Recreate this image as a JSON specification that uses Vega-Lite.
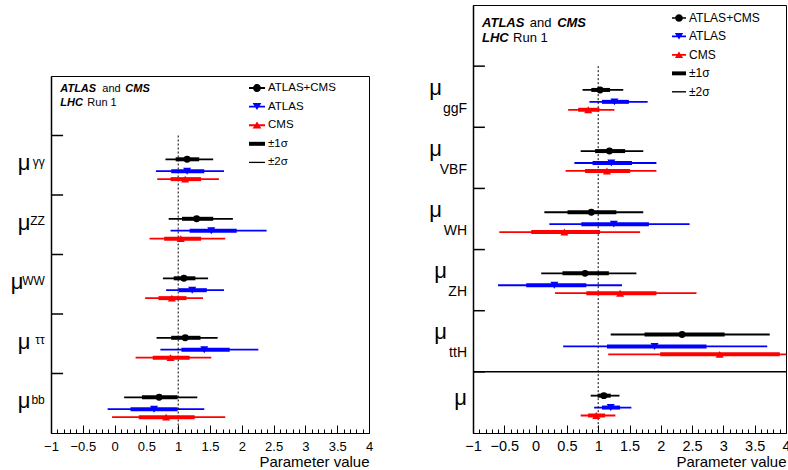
{
  "$schema": "https://vega.github.io/schema/vega-lite/v6.json",
  "background": "white",
  "padding": {"left": 10, "top": 4, "right": 0, "bottom": 0},
  "spacing": 54,
  "config": {
    "font": "Liberation Sans",
    "view": {"stroke": "black", "strokeWidth": 1},
    "axis": {"labelFont": "Liberation Sans", "titleFont": "Liberation Sans"},
    "legend": {"labelFont": "Liberation Sans"},
    "text": {"font": "Liberation Sans"}
  },
  "resolve": {"scale": {"color": "independent", "shape": "independent"}, "legend": {"color": "independent", "shape": "independent"}},
  "datasets": {
    "decay": [
      {"param": "γγ", "series": "ATLAS+CMS", "val": 1.14, "lo1": 0.96, "hi1": 1.33, "lo2": 0.80, "hi2": 1.55},
      {"param": "γγ", "series": "ATLAS", "val": 1.14, "lo1": 0.89, "hi1": 1.41, "lo2": 0.65, "hi2": 1.72},
      {"param": "γγ", "series": "CMS", "val": 1.11, "lo1": 0.88, "hi1": 1.36, "lo2": 0.67, "hi2": 1.64},
      {"param": "ZZ", "series": "ATLAS+CMS", "val": 1.29, "lo1": 1.06, "hi1": 1.55, "lo2": 0.85, "hi2": 1.86},
      {"param": "ZZ", "series": "ATLAS", "val": 1.52, "lo1": 1.18, "hi1": 1.92, "lo2": 0.88, "hi2": 2.39},
      {"param": "ZZ", "series": "CMS", "val": 1.04, "lo1": 0.78, "hi1": 1.36, "lo2": 0.55, "hi2": 1.74},
      {"param": "WW", "series": "ATLAS+CMS", "val": 1.09, "lo1": 0.93, "hi1": 1.27, "lo2": 0.76, "hi2": 1.47},
      {"param": "WW", "series": "ATLAS", "val": 1.22, "lo1": 1.01, "hi1": 1.45, "lo2": 0.81, "hi2": 1.72},
      {"param": "WW", "series": "CMS", "val": 0.90, "lo1": 0.69, "hi1": 1.13, "lo2": 0.48, "hi2": 1.39},
      {"param": "ττ", "series": "ATLAS+CMS", "val": 1.11, "lo1": 0.89, "hi1": 1.35, "lo2": 0.66, "hi2": 1.62},
      {"param": "ττ", "series": "ATLAS", "val": 1.41, "lo1": 1.05, "hi1": 1.81, "lo2": 0.72, "hi2": 2.26},
      {"param": "ττ", "series": "CMS", "val": 0.88, "lo1": 0.60, "hi1": 1.18, "lo2": 0.33, "hi2": 1.52},
      {"param": "bb", "series": "ATLAS+CMS", "val": 0.70, "lo1": 0.43, "hi1": 0.99, "lo2": 0.15, "hi2": 1.30},
      {"param": "bb", "series": "ATLAS", "val": 0.62, "lo1": 0.25, "hi1": 0.99, "lo2": -0.11, "hi2": 1.41},
      {"param": "bb", "series": "CMS", "val": 0.81, "lo1": 0.38, "hi1": 1.26, "lo2": -0.04, "hi2": 1.74}
    ],
    "prod": [
      {"param": "ggF", "series": "ATLAS+CMS", "val": 1.03, "lo1": 0.89, "hi1": 1.19, "lo2": 0.75, "hi2": 1.40},
      {"param": "ggF", "series": "ATLAS", "val": 1.26, "lo1": 1.06, "hi1": 1.49, "lo2": 0.86, "hi2": 1.79},
      {"param": "ggF", "series": "CMS", "val": 0.84, "lo1": 0.68, "hi1": 1.02, "lo2": 0.52, "hi2": 1.26},
      {"param": "VBF", "series": "ATLAS+CMS", "val": 1.18, "lo1": 0.95, "hi1": 1.43, "lo2": 0.72, "hi2": 1.72},
      {"param": "VBF", "series": "ATLAS", "val": 1.21, "lo1": 0.91, "hi1": 1.54, "lo2": 0.62, "hi2": 1.93},
      {"param": "VBF", "series": "CMS", "val": 1.14, "lo1": 0.79, "hi1": 1.51, "lo2": 0.48, "hi2": 1.93},
      {"param": "WH", "series": "ATLAS+CMS", "val": 0.89, "lo1": 0.51, "hi1": 1.29, "lo2": 0.14, "hi2": 1.72},
      {"param": "WH", "series": "ATLAS", "val": 1.25, "lo1": 0.73, "hi1": 1.81, "lo2": 0.22, "hi2": 2.46},
      {"param": "WH", "series": "CMS", "val": 0.46, "lo1": -0.07, "hi1": 1.03, "lo2": -0.58, "hi2": 1.67},
      {"param": "ZH", "series": "ATLAS+CMS", "val": 0.79, "lo1": 0.43, "hi1": 1.17, "lo2": 0.09, "hi2": 1.61},
      {"param": "ZH", "series": "ATLAS", "val": 0.30, "lo1": -0.15, "hi1": 0.81, "lo2": -0.60, "hi2": 1.38},
      {"param": "ZH", "series": "CMS", "val": 1.35, "lo1": 0.81, "hi1": 1.93, "lo2": 0.31, "hi2": 2.57},
      {"param": "ttH", "series": "ATLAS+CMS", "val": 2.34, "lo1": 1.74, "hi1": 3.02, "lo2": 1.20, "hi2": 3.74},
      {"param": "ttH", "series": "ATLAS", "val": 1.90, "lo1": 1.14, "hi1": 2.73, "lo2": 0.44, "hi2": 3.70},
      {"param": "ttH", "series": "CMS", "val": 2.94, "lo1": 1.99, "hi1": 3.90, "lo2": 1.16, "hi2": 5.0},
      {"param": "μ", "series": "ATLAS+CMS", "val": 1.09, "lo1": 0.99, "hi1": 1.20, "lo2": 0.88, "hi2": 1.34},
      {"param": "μ", "series": "ATLAS", "val": 1.20, "lo1": 1.06, "hi1": 1.35, "lo2": 0.935, "hi2": 1.53},
      {"param": "μ", "series": "CMS", "val": 0.97, "lo1": 0.84, "hi1": 1.11, "lo2": 0.72, "hi2": 1.275}
    ]
  },
  "hconcat": [
    {
      "spacing": 0,
      "resolve": {"scale": {"color": "independent", "shape": "independent"}, "legend": {"color": "independent", "shape": "independent"}},
      "vconcat": [
        {"width": 318, "height": 70, "view": {"stroke": null}, "data": {"values": []}, "mark": "point"},
        {
          "width": 318,
          "height": 357,
          "data": {"name": "decay"},
          "resolve": {"axis": {"x": "independent"}},
          "layer": [
            {
              "mark": {"type": "rule", "strokeWidth": 1.8, "clip": true},
              "encoding": {
                "x": {"field": "lo2", "type": "quantitative", "scale": {"domain": [-1, 4], "nice": false, "zero": false},
                  "axis": {
                    "orient": "bottom",
                    "values": [-1, -0.5, 0, 0.5, 1, 1.5, 2, 2.5, 3, 3.5, 4],
                    "format": "~g",
                    "labelOverlap": false, "labelFlush": false, "labelFontSize": 13, "labelColor": "black", "labelPadding": 15,
                    "tickSize": -8,
                    "tickColor": "black", "tickWidth": 1, "domainColor": "black", "domainWidth": 1, "grid": false,
                    "title": "Parameter value", "titleAnchor": "end", "titleFontSize": 15, "titleFontWeight": "normal", "titleColor": "black", "titlePadding": 1
                  }
                },
                "x2": {"field": "hi2"},
                "y": {"field": "param", "type": "nominal", "scale": {"type": "band", "domain": [" ", "γγ", "ZZ", "WW", "ττ", "bb"], "paddingInner": 0, "paddingOuter": 0},
                  "axis": {"ticks": false, "labels": false, "domainColor": "black", "domainWidth": 1.5, "title": null, "grid": false}
                },
                "yOffset": {"field": "series", "type": "nominal", "scale": {"type": "point", "domain": ["_0", "_1", "_2", "_3", "_4", "_5", "ATLAS+CMS", "_7", "_8", "ATLAS", "_10", "CMS", "_12", "_13", "_14", "_15"], "padding": 0}},
                "color": {"field": "series", "type": "nominal", "scale": {"domain": ["ATLAS+CMS", "ATLAS", "CMS", "±1σ", "±2σ"], "range": ["#000000", "#0000ff", "#ff0000", "#000000", "#000000"]}}
              }
            },
            {
              "data": {"values": [{}]},
              "mark": {"type": "rule", "color": "black", "strokeWidth": 1, "strokeDash": [2, 2]},
              "encoding": {
                "x": {"datum": 1, "type": "quantitative", "scale": {"domain": [-1, 4], "nice": false, "zero": false}, "axis": null},
                "y": {"datum": "γγ", "type": "nominal", "bandPosition": 0, "scale": {"type": "band", "domain": [" ", "γγ", "ZZ", "WW", "ττ", "bb"], "paddingInner": 0, "paddingOuter": 0}},
                "y2": {"value": "height"}
              }
            },
            {
              "transform": [{"filter": "datum.series == 'ATLAS+CMS'"}],
              "mark": {"type": "rule", "color": "black", "strokeWidth": 1.5},
              "encoding": {
                "x": {"datum": -1, "type": "quantitative", "scale": {"domain": [-1, 4], "nice": false, "zero": false}, "axis": null},
                "x2": {"datum": -0.81},
                "y": {"field": "param", "type": "nominal", "bandPosition": 0, "scale": {"type": "band", "domain": [" ", "γγ", "ZZ", "WW", "ττ", "bb"], "paddingInner": 0, "paddingOuter": 0}}
              }
            },
            {
              "mark": {"type": "rule", "strokeWidth": 4, "clip": true},
              "encoding": {
                "x": {"field": "lo1", "type": "quantitative", "scale": {"domain": [-1, 4], "nice": false, "zero": false},
                  "axis": {
                    "orient": "bottom",
                    "values": [-0.9, -0.8, -0.7, -0.6, -0.4, -0.3, -0.2, -0.1, 0.1, 0.2, 0.3, 0.4, 0.6, 0.7, 0.8, 0.9, 1.1, 1.2, 1.3, 1.4, 1.6, 1.7, 1.8, 1.9, 2.1, 2.2, 2.3, 2.4, 2.6, 2.7, 2.8, 2.9, 3.1, 3.2, 3.3, 3.4, 3.6, 3.7, 3.8, 3.9],
                    "labels": false, "domain": false, "grid": false, "title": null,
                    "tickSize": -4, "tickColor": "black", "tickWidth": 1
                  }
                },
                "x2": {"field": "hi1"},
                "y": {"field": "param", "type": "nominal", "scale": {"type": "band", "domain": [" ", "γγ", "ZZ", "WW", "ττ", "bb"], "paddingInner": 0, "paddingOuter": 0}},
                "yOffset": {"field": "series", "type": "nominal", "scale": {"type": "point", "domain": ["_0", "_1", "_2", "_3", "_4", "_5", "ATLAS+CMS", "_7", "_8", "ATLAS", "_10", "CMS", "_12", "_13", "_14", "_15"], "padding": 0}},
                "color": {"field": "series", "type": "nominal", "scale": {"domain": ["ATLAS+CMS", "ATLAS", "CMS", "±1σ", "±2σ"], "range": ["#000000", "#0000ff", "#ff0000", "#000000", "#000000"]}}
              }
            },
            {
              "transform": [{"filter": "datum.series == 'ATLAS+CMS'"}],
              "mark": {"type": "point", "shape": "circle", "filled": true, "size": 48, "opacity": 1},
              "encoding": {
                "x": {"field": "val", "type": "quantitative", "scale": {"domain": [-1, 4], "nice": false, "zero": false}, "axis": null},
                "y": {"field": "param", "type": "nominal", "scale": {"type": "band", "domain": [" ", "γγ", "ZZ", "WW", "ττ", "bb"], "paddingInner": 0, "paddingOuter": 0}},
                "yOffset": {"field": "series", "type": "nominal", "scale": {"type": "point", "domain": ["_0", "_1", "_2", "_3", "_4", "_5", "ATLAS+CMS", "_7", "_8", "ATLAS", "_10", "CMS", "_12", "_13", "_14", "_15"], "padding": 0}},
                "color": {"field": "series", "type": "nominal", "scale": {"domain": ["ATLAS+CMS", "ATLAS", "CMS", "±1σ", "±2σ"], "range": ["#000000", "#0000ff", "#ff0000", "#000000", "#000000"]}}
              }
            },
            {
              "transform": [{"filter": "datum.series == 'ATLAS'"}],
              "mark": {"type": "point", "shape": "triangle-down", "filled": true, "size": 64, "opacity": 1},
              "encoding": {
                "x": {"field": "val", "type": "quantitative", "scale": {"domain": [-1, 4], "nice": false, "zero": false}, "axis": null},
                "y": {"field": "param", "type": "nominal", "scale": {"type": "band", "domain": [" ", "γγ", "ZZ", "WW", "ττ", "bb"], "paddingInner": 0, "paddingOuter": 0}},
                "yOffset": {"field": "series", "type": "nominal", "scale": {"type": "point", "domain": ["_0", "_1", "_2", "_3", "_4", "_5", "ATLAS+CMS", "_7", "_8", "ATLAS", "_10", "CMS", "_12", "_13", "_14", "_15"], "padding": 0}},
                "color": {"field": "series", "type": "nominal", "scale": {"domain": ["ATLAS+CMS", "ATLAS", "CMS", "±1σ", "±2σ"], "range": ["#000000", "#0000ff", "#ff0000", "#000000", "#000000"]}}
              }
            },
            {
              "transform": [{"filter": "datum.series == 'CMS'"}],
              "mark": {"type": "point", "shape": "triangle-up", "filled": true, "size": 64, "opacity": 1},
              "encoding": {
                "x": {"field": "val", "type": "quantitative", "scale": {"domain": [-1, 4], "nice": false, "zero": false}, "axis": null},
                "y": {"field": "param", "type": "nominal", "scale": {"type": "band", "domain": [" ", "γγ", "ZZ", "WW", "ττ", "bb"], "paddingInner": 0, "paddingOuter": 0}},
                "yOffset": {"field": "series", "type": "nominal", "scale": {"type": "point", "domain": ["_0", "_1", "_2", "_3", "_4", "_5", "ATLAS+CMS", "_7", "_8", "ATLAS", "_10", "CMS", "_12", "_13", "_14", "_15"], "padding": 0}},
                "color": {"field": "series", "type": "nominal", "scale": {"domain": ["ATLAS+CMS", "ATLAS", "CMS", "±1σ", "±2σ"], "range": ["#000000", "#0000ff", "#ff0000", "#000000", "#000000"]}}
              }
            },
            {
              "transform": [{"filter": "false"}],
              "mark": {"type": "point", "filled": true, "size": 256, "opacity": 1},
              "encoding": {
                "x": {"field": "val", "type": "quantitative", "scale": {"domain": [-1, 4], "nice": false, "zero": false}, "axis": null},
                "y": {"field": "param", "type": "nominal", "scale": {"type": "band", "domain": [" ", "γγ", "ZZ", "WW", "ττ", "bb"], "paddingInner": 0, "paddingOuter": 0}},
                "color": {"field": "series", "type": "nominal", "scale": {"domain": ["ATLAS+CMS", "ATLAS", "CMS", "±1σ", "±2σ"], "range": ["#000000", "#0000ff", "#ff0000", "#000000", "#000000"]},
                  "legend": {"orient": "none", "legendX": 198, "legendY": 4, "title": null, "labelFontSize": 11.5, "labelColor": "black", "labelOffset": 3, "rowPadding": 4.6, "padding": 0, "symbolSize": 256, "symbolStrokeWidth": 0, "symbolOpacity": 1}},
                "shape": {"field": "series", "type": "nominal", "scale": {"domain": ["ATLAS+CMS", "ATLAS", "CMS", "±1σ", "±2σ"], "range": [
                  "M-1,-0.12L1,-0.12L1,0.12L-1,0.12Z M-0.5,0A0.5,0.5 0 1,1 0.5,0A0.5,0.5 0 1,1 -0.5,0Z",
                  "M-1,-0.12L1,-0.12L1,0.12L-1,0.12Z M-0.55,-0.45L0.55,-0.45L0,0.42Z",
                  "M-1,-0.12L1,-0.12L1,0.12L-1,0.12Z M-0.55,0.42L0,-0.45L0.55,0.42Z",
                  "M-1,-0.25L1,-0.25L1,0.25L-1,0.25Z",
                  "M-1,-0.08L1,-0.08L1,0.08L-1,0.08Z"]},
                  "legend": {"orient": "none", "legendX": 198, "legendY": 4, "title": null, "labelFontSize": 11.5, "labelColor": "black", "labelOffset": 3, "rowPadding": 4.6, "padding": 0, "symbolSize": 256, "symbolStrokeWidth": 0, "symbolOpacity": 1}}
              }
            },
            {
              "transform": [{"filter": "datum.series == 'ATLAS+CMS' && datum.param != 'WW'"}],
              "mark": {"type": "text", "text": "μ", "align": "right", "baseline": "alphabetic", "dx": -20.5, "dy": 4.75, "fontSize": 22, "color": "black"},
              "encoding": {
                "x": {"datum": -1, "type": "quantitative", "scale": {"domain": [-1, 4], "nice": false, "zero": false}, "axis": null},
                "y": {"field": "param", "type": "nominal", "scale": {"type": "band", "domain": [" ", "γγ", "ZZ", "WW", "ττ", "bb"], "paddingInner": 0, "paddingOuter": 0}}
              }
            },
            {
              "transform": [{"filter": "datum.series == 'ATLAS+CMS' && datum.param == 'WW'"}],
              "mark": {"type": "text", "text": "μ", "align": "right", "baseline": "alphabetic", "dx": -27.5, "dy": 4.75, "fontSize": 22, "color": "black"},
              "encoding": {
                "x": {"datum": -1, "type": "quantitative", "scale": {"domain": [-1, 4], "nice": false, "zero": false}, "axis": null},
                "y": {"field": "param", "type": "nominal", "scale": {"type": "band", "domain": [" ", "γγ", "ZZ", "WW", "ττ", "bb"], "paddingInner": 0, "paddingOuter": 0}}
              }
            },
            {
              "transform": [{"filter": "datum.series == 'ATLAS+CMS'"}],
              "mark": {"type": "text", "align": "right", "baseline": "alphabetic", "dx": -6.2, "dy": 0.25, "fontSize": 12, "color": "black"},
              "encoding": {
                "x": {"datum": -1, "type": "quantitative", "scale": {"domain": [-1, 4], "nice": false, "zero": false}, "axis": null},
                "y": {"field": "param", "type": "nominal", "scale": {"type": "band", "domain": [" ", "γγ", "ZZ", "WW", "ττ", "bb"], "paddingInner": 0, "paddingOuter": 0}},
                "text": {"field": "param"}
              }
            },
            {
              "data": {"values": [{}]},
              "mark": {"type": "text", "text": "ATLAS", "fontStyle": "italic", "fontWeight": "bold", "fontSize": 11, "align": "left", "baseline": "middle", "dy": -16.75, "color": "black"},
              "encoding": {
                "x": {"datum": -0.854, "type": "quantitative", "scale": {"domain": [-1, 4], "nice": false, "zero": false}, "axis": null},
                "y": {"datum": " ", "type": "nominal", "scale": {"type": "band", "domain": [" ", "γγ", "ZZ", "WW", "ττ", "bb"], "paddingInner": 0, "paddingOuter": 0}}
              }
            },
            {
              "data": {"values": [{}]},
              "mark": {"type": "text", "text": "and", "fontSize": 11, "align": "left", "baseline": "middle", "dy": -16.75, "color": "black"},
              "encoding": {
                "x": {"datum": -0.193, "type": "quantitative", "scale": {"domain": [-1, 4], "nice": false, "zero": false}, "axis": null},
                "y": {"datum": " ", "type": "nominal", "scale": {"type": "band", "domain": [" ", "γγ", "ZZ", "WW", "ττ", "bb"], "paddingInner": 0, "paddingOuter": 0}}
              }
            },
            {
              "data": {"values": [{}]},
              "mark": {"type": "text", "text": "CMS", "fontStyle": "italic", "fontWeight": "bold", "fontSize": 11, "align": "left", "baseline": "middle", "dy": -16.75, "color": "black"},
              "encoding": {
                "x": {"datum": 0.168, "type": "quantitative", "scale": {"domain": [-1, 4], "nice": false, "zero": false}, "axis": null},
                "y": {"datum": " ", "type": "nominal", "scale": {"type": "band", "domain": [" ", "γγ", "ZZ", "WW", "ττ", "bb"], "paddingInner": 0, "paddingOuter": 0}}
              }
            },
            {
              "data": {"values": [{}]},
              "mark": {"type": "text", "text": "LHC", "fontStyle": "italic", "fontWeight": "bold", "fontSize": 11, "align": "left", "baseline": "middle", "dy": -2.75, "color": "black"},
              "encoding": {
                "x": {"datum": -0.854, "type": "quantitative", "scale": {"domain": [-1, 4], "nice": false, "zero": false}, "axis": null},
                "y": {"datum": " ", "type": "nominal", "scale": {"type": "band", "domain": [" ", "γγ", "ZZ", "WW", "ττ", "bb"], "paddingInner": 0, "paddingOuter": 0}}
              }
            },
            {
              "data": {"values": [{}]},
              "mark": {"type": "text", "text": "Run 1", "fontSize": 11, "align": "left", "baseline": "middle", "dy": -2.75, "color": "black"},
              "encoding": {
                "x": {"datum": -0.429, "type": "quantitative", "scale": {"domain": [-1, 4], "nice": false, "zero": false}, "axis": null},
                "y": {"datum": " ", "type": "nominal", "scale": {"type": "band", "domain": [" ", "γγ", "ZZ", "WW", "ττ", "bb"], "paddingInner": 0, "paddingOuter": 0}}
              }
            }
          ]
        }
      ]
    },
    {
      "width": 313,
      "height": 428,
      "data": {"name": "prod"},
      "resolve": {"axis": {"x": "independent"}},
      "layer": [
        {
          "mark": {"type": "rule", "strokeWidth": 1.8, "clip": true},
          "encoding": {
            "x": {"field": "lo2", "type": "quantitative", "scale": {"domain": [-1, 4], "nice": false, "zero": false},
              "axis": {
                "orient": "bottom",
                "values": [-1, -0.5, 0, 0.5, 1, 1.5, 2, 2.5, 3, 3.5, 4],
                "format": "~g",
                "labelOverlap": false, "labelFlush": false, "labelFontSize": 14.5, "labelColor": "black", "labelPadding": 14,
                "tickSize": -8,
                "tickColor": "black", "tickWidth": 1, "domainColor": "black", "domainWidth": 1, "grid": false,
                "title": "Parameter value", "titleAnchor": "end", "titleFontSize": 15, "titleFontWeight": "normal", "titleColor": "black", "titlePadding": 2
              }
            },
            "x2": {"field": "hi2"},
            "y": {"field": "param", "type": "nominal", "scale": {"type": "band", "domain": [" ", "ggF", "VBF", "WH", "ZH", "ttH", "μ"], "paddingInner": 0, "paddingOuter": 0},
              "axis": {"ticks": false, "labels": false, "domainColor": "black", "domainWidth": 1.5, "title": null, "grid": false}
            },
            "yOffset": {"field": "series", "type": "nominal", "scale": {"type": "point", "domain": ["_0", "_1", "_2", "_3", "_4", "_5", "ATLAS+CMS", "_7", "_8", "ATLAS", "_10", "CMS", "_12", "_13", "_14", "_15"], "padding": 0}},
            "color": {"field": "series", "type": "nominal", "scale": {"domain": ["ATLAS+CMS", "ATLAS", "CMS", "±1σ", "±2σ"], "range": ["#000000", "#0000ff", "#ff0000", "#000000", "#000000"]}}
          }
        },
        {
          "data": {"values": [{}]},
          "mark": {"type": "rule", "color": "black", "strokeWidth": 1, "strokeDash": [2, 2]},
          "encoding": {
            "x": {"datum": 1, "type": "quantitative", "scale": {"domain": [-1, 4], "nice": false, "zero": false}, "axis": null},
            "y": {"datum": "ggF", "type": "nominal", "bandPosition": 0, "scale": {"type": "band", "domain": [" ", "ggF", "VBF", "WH", "ZH", "ttH", "μ"], "paddingInner": 0, "paddingOuter": 0}},
            "y2": {"value": "height"}
          }
        },
        {
          "data": {"values": [{}]},
          "mark": {"type": "rule", "color": "black", "strokeWidth": 1.5},
          "encoding": {
            "y": {"datum": "μ", "type": "nominal", "bandPosition": 0, "scale": {"type": "band", "domain": [" ", "ggF", "VBF", "WH", "ZH", "ttH", "μ"], "paddingInner": 0, "paddingOuter": 0}}
          }
        },
        {
          "transform": [{"filter": "datum.series == 'ATLAS+CMS'"}],
          "mark": {"type": "rule", "color": "black", "strokeWidth": 1.5},
          "encoding": {
            "x": {"datum": -1, "type": "quantitative", "scale": {"domain": [-1, 4], "nice": false, "zero": false}, "axis": null},
            "x2": {"datum": -0.81},
            "y": {"field": "param", "type": "nominal", "bandPosition": 0, "scale": {"type": "band", "domain": [" ", "ggF", "VBF", "WH", "ZH", "ttH", "μ"], "paddingInner": 0, "paddingOuter": 0}}
          }
        },
        {
          "mark": {"type": "rule", "strokeWidth": 4, "clip": true},
          "encoding": {
            "x": {"field": "lo1", "type": "quantitative", "scale": {"domain": [-1, 4], "nice": false, "zero": false},
              "axis": {
                "orient": "bottom",
                "values": [-0.9, -0.8, -0.7, -0.6, -0.4, -0.3, -0.2, -0.1, 0.1, 0.2, 0.3, 0.4, 0.6, 0.7, 0.8, 0.9, 1.1, 1.2, 1.3, 1.4, 1.6, 1.7, 1.8, 1.9, 2.1, 2.2, 2.3, 2.4, 2.6, 2.7, 2.8, 2.9, 3.1, 3.2, 3.3, 3.4, 3.6, 3.7, 3.8, 3.9],
                "labels": false, "domain": false, "grid": false, "title": null,
                "tickSize": -4, "tickColor": "black", "tickWidth": 1
              }
            },
            "x2": {"field": "hi1"},
            "y": {"field": "param", "type": "nominal", "scale": {"type": "band", "domain": [" ", "ggF", "VBF", "WH", "ZH", "ttH", "μ"], "paddingInner": 0, "paddingOuter": 0}},
            "yOffset": {"field": "series", "type": "nominal", "scale": {"type": "point", "domain": ["_0", "_1", "_2", "_3", "_4", "_5", "ATLAS+CMS", "_7", "_8", "ATLAS", "_10", "CMS", "_12", "_13", "_14", "_15"], "padding": 0}},
            "color": {"field": "series", "type": "nominal", "scale": {"domain": ["ATLAS+CMS", "ATLAS", "CMS", "±1σ", "±2σ"], "range": ["#000000", "#0000ff", "#ff0000", "#000000", "#000000"]}}
          }
        },
        {
          "transform": [{"filter": "datum.series == 'ATLAS+CMS'"}],
          "mark": {"type": "point", "shape": "circle", "filled": true, "size": 48, "opacity": 1},
          "encoding": {
            "x": {"field": "val", "type": "quantitative", "scale": {"domain": [-1, 4], "nice": false, "zero": false}, "axis": null},
            "y": {"field": "param", "type": "nominal", "scale": {"type": "band", "domain": [" ", "ggF", "VBF", "WH", "ZH", "ttH", "μ"], "paddingInner": 0, "paddingOuter": 0}},
            "yOffset": {"field": "series", "type": "nominal", "scale": {"type": "point", "domain": ["_0", "_1", "_2", "_3", "_4", "_5", "ATLAS+CMS", "_7", "_8", "ATLAS", "_10", "CMS", "_12", "_13", "_14", "_15"], "padding": 0}},
            "color": {"field": "series", "type": "nominal", "scale": {"domain": ["ATLAS+CMS", "ATLAS", "CMS", "±1σ", "±2σ"], "range": ["#000000", "#0000ff", "#ff0000", "#000000", "#000000"]}}
          }
        },
        {
          "transform": [{"filter": "datum.series == 'ATLAS'"}],
          "mark": {"type": "point", "shape": "triangle-down", "filled": true, "size": 64, "opacity": 1},
          "encoding": {
            "x": {"field": "val", "type": "quantitative", "scale": {"domain": [-1, 4], "nice": false, "zero": false}, "axis": null},
            "y": {"field": "param", "type": "nominal", "scale": {"type": "band", "domain": [" ", "ggF", "VBF", "WH", "ZH", "ttH", "μ"], "paddingInner": 0, "paddingOuter": 0}},
            "yOffset": {"field": "series", "type": "nominal", "scale": {"type": "point", "domain": ["_0", "_1", "_2", "_3", "_4", "_5", "ATLAS+CMS", "_7", "_8", "ATLAS", "_10", "CMS", "_12", "_13", "_14", "_15"], "padding": 0}},
            "color": {"field": "series", "type": "nominal", "scale": {"domain": ["ATLAS+CMS", "ATLAS", "CMS", "±1σ", "±2σ"], "range": ["#000000", "#0000ff", "#ff0000", "#000000", "#000000"]}}
          }
        },
        {
          "transform": [{"filter": "datum.series == 'CMS'"}],
          "mark": {"type": "point", "shape": "triangle-up", "filled": true, "size": 64, "opacity": 1},
          "encoding": {
            "x": {"field": "val", "type": "quantitative", "scale": {"domain": [-1, 4], "nice": false, "zero": false}, "axis": null},
            "y": {"field": "param", "type": "nominal", "scale": {"type": "band", "domain": [" ", "ggF", "VBF", "WH", "ZH", "ttH", "μ"], "paddingInner": 0, "paddingOuter": 0}},
            "yOffset": {"field": "series", "type": "nominal", "scale": {"type": "point", "domain": ["_0", "_1", "_2", "_3", "_4", "_5", "ATLAS+CMS", "_7", "_8", "ATLAS", "_10", "CMS", "_12", "_13", "_14", "_15"], "padding": 0}},
            "color": {"field": "series", "type": "nominal", "scale": {"domain": ["ATLAS+CMS", "ATLAS", "CMS", "±1σ", "±2σ"], "range": ["#000000", "#0000ff", "#ff0000", "#000000", "#000000"]}}
          }
        },
        {
          "transform": [{"filter": "false"}],
          "mark": {"type": "point", "filled": true, "size": 196, "opacity": 1},
          "encoding": {
            "x": {"field": "val", "type": "quantitative", "scale": {"domain": [-1, 4], "nice": false, "zero": false}, "axis": null},
            "y": {"field": "param", "type": "nominal", "scale": {"type": "band", "domain": [" ", "ggF", "VBF", "WH", "ZH", "ttH", "μ"], "paddingInner": 0, "paddingOuter": 0}},
            "color": {"field": "series", "type": "nominal", "scale": {"domain": ["ATLAS+CMS", "ATLAS", "CMS", "±1σ", "±2σ"], "range": ["#000000", "#0000ff", "#ff0000", "#000000", "#000000"]},
              "legend": {"orient": "none", "legendX": 199, "legendY": 6, "title": null, "labelFontSize": 12, "labelColor": "black", "labelOffset": 3, "rowPadding": 5.45, "padding": 0, "symbolSize": 196, "symbolStrokeWidth": 0, "symbolOpacity": 1}},
            "shape": {"field": "series", "type": "nominal", "scale": {"domain": ["ATLAS+CMS", "ATLAS", "CMS", "±1σ", "±2σ"], "range": [
              "M-1,-0.12L1,-0.12L1,0.12L-1,0.12Z M-0.55,0A0.55,0.55 0 1,1 0.55,0A0.55,0.55 0 1,1 -0.55,0Z",
              "M-1,-0.12L1,-0.12L1,0.12L-1,0.12Z M-0.6,-0.5L0.6,-0.5L0,0.45Z",
              "M-1,-0.12L1,-0.12L1,0.12L-1,0.12Z M-0.6,0.45L0,-0.5L0.6,0.45Z",
              "M-1,-0.28L1,-0.28L1,0.28L-1,0.28Z",
              "M-1,-0.1L1,-0.1L1,0.1L-1,0.1Z"]},
              "legend": {"orient": "none", "legendX": 199, "legendY": 6, "title": null, "labelFontSize": 12, "labelColor": "black", "labelOffset": 3, "rowPadding": 5.45, "padding": 0, "symbolSize": 196, "symbolStrokeWidth": 0, "symbolOpacity": 1}}
          }
        },
        {
          "transform": [{"filter": "datum.series == 'ATLAS+CMS' && (datum.param == 'ggF' || datum.param == 'VBF' || datum.param == 'WH')"}],
          "mark": {"type": "text", "text": "μ", "align": "right", "baseline": "alphabetic", "dx": -31, "dy": -2, "fontSize": 22, "color": "black"},
          "encoding": {
            "x": {"datum": -1, "type": "quantitative", "scale": {"domain": [-1, 4], "nice": false, "zero": false}, "axis": null},
            "y": {"field": "param", "type": "nominal", "scale": {"type": "band", "domain": [" ", "ggF", "VBF", "WH", "ZH", "ttH", "μ"], "paddingInner": 0, "paddingOuter": 0}}
          }
        },
        {
          "transform": [{"filter": "datum.series == 'ATLAS+CMS' && (datum.param == 'ZH' || datum.param == 'ttH')"}],
          "mark": {"type": "text", "text": "μ", "align": "right", "baseline": "alphabetic", "dx": -26, "dy": -2, "fontSize": 22, "color": "black"},
          "encoding": {
            "x": {"datum": -1, "type": "quantitative", "scale": {"domain": [-1, 4], "nice": false, "zero": false}, "axis": null},
            "y": {"field": "param", "type": "nominal", "scale": {"type": "band", "domain": [" ", "ggF", "VBF", "WH", "ZH", "ttH", "μ"], "paddingInner": 0, "paddingOuter": 0}}
          }
        },
        {
          "transform": [{"filter": "datum.series == 'ATLAS+CMS' && datum.param == 'μ'"}],
          "mark": {"type": "text", "text": "μ", "align": "right", "baseline": "alphabetic", "dx": -6, "dy": 3, "fontSize": 22, "color": "black"},
          "encoding": {
            "x": {"datum": -1, "type": "quantitative", "scale": {"domain": [-1, 4], "nice": false, "zero": false}, "axis": null},
            "y": {"field": "param", "type": "nominal", "scale": {"type": "band", "domain": [" ", "ggF", "VBF", "WH", "ZH", "ttH", "μ"], "paddingInner": 0, "paddingOuter": 0}}
          }
        },
        {
          "transform": [{"filter": "datum.series == 'ATLAS+CMS' && datum.param != 'μ'"}],
          "mark": {"type": "text", "align": "right", "baseline": "alphabetic", "dx": -6, "dy": 16, "fontSize": 14, "color": "black"},
          "encoding": {
            "x": {"datum": -1, "type": "quantitative", "scale": {"domain": [-1, 4], "nice": false, "zero": false}, "axis": null},
            "y": {"field": "param", "type": "nominal", "scale": {"type": "band", "domain": [" ", "ggF", "VBF", "WH", "ZH", "ttH", "μ"], "paddingInner": 0, "paddingOuter": 0}},
            "text": {"field": "param"}
          }
        },
        {
          "data": {"values": [{}]},
          "mark": {"type": "text", "text": "ATLAS", "fontStyle": "italic", "fontWeight": "bold", "fontSize": 13, "align": "left", "baseline": "middle", "dy": -12.8, "color": "black"},
          "encoding": {
            "x": {"datum": -0.856, "type": "quantitative", "scale": {"domain": [-1, 4], "nice": false, "zero": false}, "axis": null},
            "y": {"datum": " ", "type": "nominal", "scale": {"type": "band", "domain": [" ", "ggF", "VBF", "WH", "ZH", "ttH", "μ"], "paddingInner": 0, "paddingOuter": 0}}
          }
        },
        {
          "data": {"values": [{}]},
          "mark": {"type": "text", "text": "and", "fontSize": 13, "align": "left", "baseline": "middle", "dy": -12.8, "color": "black"},
          "encoding": {
            "x": {"datum": -0.093, "type": "quantitative", "scale": {"domain": [-1, 4], "nice": false, "zero": false}, "axis": null},
            "y": {"datum": " ", "type": "nominal", "scale": {"type": "band", "domain": [" ", "ggF", "VBF", "WH", "ZH", "ttH", "μ"], "paddingInner": 0, "paddingOuter": 0}}
          }
        },
        {
          "data": {"values": [{}]},
          "mark": {"type": "text", "text": "CMS", "fontStyle": "italic", "fontWeight": "bold", "fontSize": 13, "align": "left", "baseline": "middle", "dy": -12.8, "color": "black"},
          "encoding": {
            "x": {"datum": 0.344, "type": "quantitative", "scale": {"domain": [-1, 4], "nice": false, "zero": false}, "axis": null},
            "y": {"datum": " ", "type": "nominal", "scale": {"type": "band", "domain": [" ", "ggF", "VBF", "WH", "ZH", "ttH", "μ"], "paddingInner": 0, "paddingOuter": 0}}
          }
        },
        {
          "data": {"values": [{}]},
          "mark": {"type": "text", "text": "LHC", "fontStyle": "italic", "fontWeight": "bold", "fontSize": 13, "align": "left", "baseline": "middle", "dy": 2.5, "color": "black"},
          "encoding": {
            "x": {"datum": -0.856, "type": "quantitative", "scale": {"domain": [-1, 4], "nice": false, "zero": false}, "axis": null},
            "y": {"datum": " ", "type": "nominal", "scale": {"type": "band", "domain": [" ", "ggF", "VBF", "WH", "ZH", "ttH", "μ"], "paddingInner": 0, "paddingOuter": 0}}
          }
        },
        {
          "data": {"values": [{}]},
          "mark": {"type": "text", "text": "Run 1", "fontSize": 13, "align": "left", "baseline": "middle", "dy": 2.5, "color": "black"},
          "encoding": {
            "x": {"datum": -0.36, "type": "quantitative", "scale": {"domain": [-1, 4], "nice": false, "zero": false}, "axis": null},
            "y": {"datum": " ", "type": "nominal", "scale": {"type": "band", "domain": [" ", "ggF", "VBF", "WH", "ZH", "ttH", "μ"], "paddingInner": 0, "paddingOuter": 0}}
          }
        }
      ]
    }
  ]
}
